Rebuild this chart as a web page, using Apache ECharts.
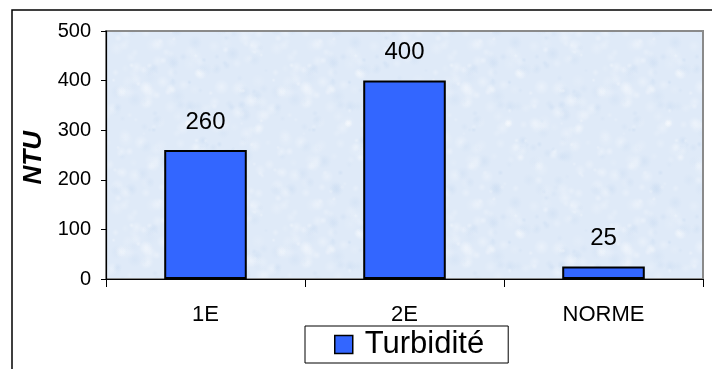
<!DOCTYPE html>
<html>
<head>
<meta charset="utf-8">
<script src="https://cdn.jsdelivr.net/npm/echarts@6/dist/echarts.min.js"></script>
<style>
  html, body { margin: 0; padding: 0; background: #ffffff; }
  #chart { width: 712px; height: 369px; }
</style>
</head>
<body>
<div id="chart"></div>
<script>
// Turbidity per sample point, with the regulatory limit (NORME)
const categories = ['1E', '2E', 'NORME'];
const turbidite = [260, 400, 25];
const yTicks = [0, 100, 200, 300, 400, 500];
const seriesName = 'Turbidité';
const yAxisTitle = 'NTU';

const FONT = '"Liberation Sans", Arial, sans-serif';

// Soft "paper" texture for the plot background, built from a fixed hash
function paperTexture() {
  const size = 160;
  const c = document.createElement('canvas');
  c.width = size; c.height = size;
  const ctx = c.getContext('2d');
  ctx.fillStyle = '#dfeaf8';
  ctx.fillRect(0, 0, size, size);
  const hash = (i, k) => {
    const v = Math.sin(i * 12.9898 + k * 78.233) * 43758.5453;
    return v - Math.floor(v);
  };
  for (let i = 0; i < 260; i++) {
    const x = hash(i, 1) * size;
    const y = hash(i, 2) * size;
    const r = 2 + hash(i, 3) * 6;
    const light = hash(i, 4) > 0.35;
    const a = 0.10 + hash(i, 5) * 0.25;
    const g = ctx.createRadialGradient(x, y, 0, x, y, r);
    const col = light ? '255,255,255' : '190,212,238';
    g.addColorStop(0, 'rgba(' + col + ',' + a + ')');
    g.addColorStop(1, 'rgba(' + col + ',0)');
    ctx.fillStyle = g;
    for (const dx of [-size, 0, size]) {
      for (const dy of [-size, 0, size]) {
        ctx.save();
        ctx.translate(dx, dy);
        ctx.beginPath();
        ctx.arc(x, y, r, 0, Math.PI * 2);
        ctx.fill();
        ctx.restore();
      }
    }
  }
  return c;
}

const chart = echarts.init(document.getElementById('chart'), null, { renderer: 'canvas' });

chart.setOption({
  animation: false,
  backgroundColor: '#ffffff',
  textStyle: { fontFamily: FONT },
  graphic: [
    {
      // outer chart frame
      type: 'rect',
      z: 0,
      shape: { x: 12, y: 10, width: 760, height: 420 },
      style: { fill: 'none', stroke: '#000000', lineWidth: 1.5 },
      silent: true
    },
    {
      type: 'text',
      z: 10,
      left: 21,
      top: 131,
      rotation: Math.PI / 2,
      style: {
        text: yAxisTitle,
        font: 'italic bold 26px ' + FONT,
        fill: '#000000'
      }
    }
  ],
  grid: {
    left: 106,
    top: 31,
    right: 9,
    bottom: 90,
    show: true,
    backgroundColor: { image: paperTexture(), repeat: 'repeat' },
    borderColor: '#8a8a8a',
    borderWidth: 2
  },
  legend: {
    left: 305,
    top: 326,
    data: [seriesName],
    icon: 'rect',
    itemWidth: 18,
    itemHeight: 18,
    itemGap: 10,
    padding: [3, 24, 3, 29],
    borderColor: '#000000',
    borderWidth: 1,
    backgroundColor: '#ffffff',
    textStyle: { fontSize: 31, color: '#000000', fontFamily: FONT, padding: [0, 0, 0, 7] },
    itemStyle: { borderColor: '#000000', borderWidth: 1.5 }
  },
  xAxis: {
    type: 'category',
    data: categories,
    axisLine: { show: true, lineStyle: { color: '#000000', width: 1.2 } },
    axisTick: { show: true, alignWithLabel: false, length: 8, lineStyle: { color: '#000000' } },
    axisLabel: { fontSize: 22, color: '#000000', margin: 25, fontFamily: FONT },
    splitLine: { show: false }
  },
  yAxis: {
    type: 'value',
    min: yTicks[0],
    max: yTicks[yTicks.length - 1],
    interval: yTicks[1] - yTicks[0],
    axisLine: { show: true, lineStyle: { color: '#000000', width: 1.2 } },
    axisTick: { show: true, length: 5, lineStyle: { color: '#000000' } },
    axisLabel: { fontSize: 20, color: '#000000', margin: 15, fontFamily: FONT },
    splitLine: { show: false }
  },
  series: [
    {
      name: seriesName,
      type: 'bar',
      data: turbidite,
      barWidth: '41.5%',
      itemStyle: { color: '#3366ff', borderColor: '#000000', borderWidth: 2 },
      label: {
        show: true,
        position: 'top',
        distance: 16,
        fontSize: 24,
        color: '#000000',
        fontFamily: FONT
      }
    }
  ]
});
</script>
</body>
</html>
